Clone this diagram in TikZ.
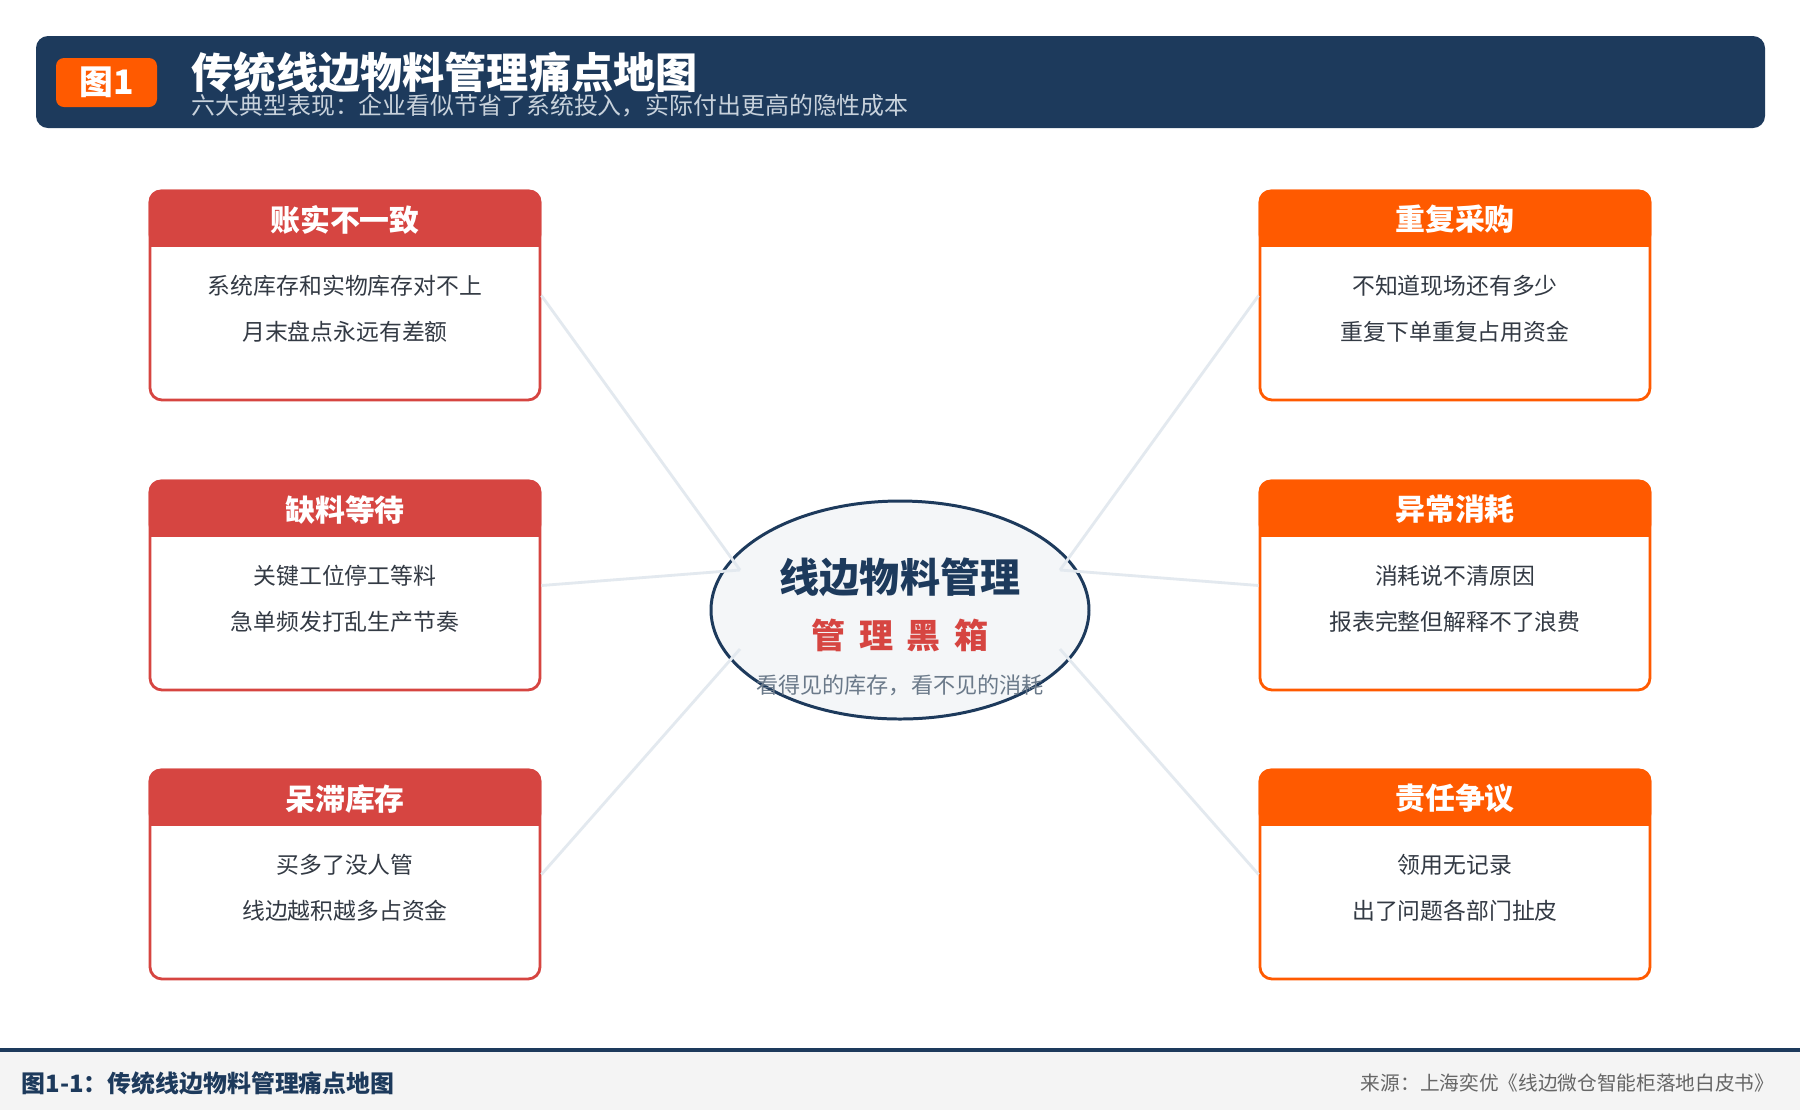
\documentclass[tikz,border=0pt]{standalone}
\usepackage{fontspec}
\setmainfont{Noto Sans CJK SC}
\usetikzlibrary{shapes.geometric, positioning, calc}
\definecolor{navy1}{HTML}{1D3A5C}
\definecolor{alertred}{HTML}{D64541}
\definecolor{orange1}{HTML}{FF5A00}
\definecolor{bodygray}{HTML}{333A44}
\definecolor{hubfill}{HTML}{F4F6F8}
\definecolor{mutedgray}{HTML}{6B7A8A}
\definecolor{subtitlegray}{HTML}{C8D2DC}
\definecolor{spokegray}{HTML}{E3E9EF}
\definecolor{footbg}{HTML}{F4F4F4}
\definecolor{footgray}{HTML}{666666}

\tikzset{
  cardframe/.style={draw, fill=white, line width=0.8pt, rounded corners=0.12cm,
    minimum width=3.90cm, minimum height=2.09cm, inner sep=0pt},
  cardtitle/.style={font=\fontsize{8.5}{10}\selectfont\bfseries, text=white, inner sep=0pt},
  cardtext/.style={font=\fontsize{6.5}{8}\selectfont, text=bodygray, inner sep=0pt},
  spoke/.style={draw=spokegray, line width=0.8pt},
}

\begin{document}
\begin{tikzpicture}
  \useasboundingbox (0, 0) rectangle (18, -11.10);
  \fill[white] (0, 0) rectangle (18, -11.10);

  % Title bar
  \fill[navy1, rounded corners=0.12cm] (0.36, -0.36) rectangle (17.65, -1.28);
  \node[fill=orange1, rounded corners=0.08cm, minimum width=1.01cm, minimum height=0.49cm, inner sep=0pt,
    font=\fontsize{9.6}{11}\selectfont\bfseries, text=white] (tag) at (1.065, -0.825) {图1};
  \node[anchor=west, inner sep=0pt, font=\fontsize{12}{14}\selectfont\bfseries, text=white] (title) at (1.91, -0.72) {传统线边物料管理痛点地图};
  \node[anchor=west, inner sep=0pt, font=\fontsize{6.8}{8}\selectfont, text=subtitlegray] (subtitle) at (1.91, -1.06) {六大典型表现：企业看似节省了系统投入，实际付出更高的隐性成本};

  % Left cards
  \node[cardframe, draw=alertred] (zhang) at (3.45, -2.955) {};
  \fill[alertred, rounded corners=0.12cm] (zhang.north west) rectangle ([yshift=-0.57cm]zhang.north east);
  \fill[alertred] ([yshift=-0.30cm]zhang.north west) rectangle ([yshift=-0.57cm]zhang.north east);
  \node[cardtitle] (zhangT) at ([yshift=-0.30cm]zhang.north) {账实不一致};
  \node[cardtext] (zhangA) at ([yshift=-0.96cm]zhang.north) {系统库存和实物库存对不上};
  \node[cardtext] (zhangB) at ([yshift=-1.42cm]zhang.north) {月末盘点永远有差额};

  \node[cardframe, draw=alertred] (que) at (3.45, -5.855) {};
  \fill[alertred, rounded corners=0.12cm] (que.north west) rectangle ([yshift=-0.57cm]que.north east);
  \fill[alertred] ([yshift=-0.30cm]que.north west) rectangle ([yshift=-0.57cm]que.north east);
  \node[cardtitle] (queT) at ([yshift=-0.30cm]que.north) {缺料等待};
  \node[cardtext] (queA) at ([yshift=-0.96cm]que.north) {关键工位停工等料};
  \node[cardtext] (queB) at ([yshift=-1.42cm]que.north) {急单频发打乱生产节奏};

  \node[cardframe, draw=alertred] (dai) at (3.45, -8.745) {};
  \fill[alertred, rounded corners=0.12cm] (dai.north west) rectangle ([yshift=-0.57cm]dai.north east);
  \fill[alertred] ([yshift=-0.30cm]dai.north west) rectangle ([yshift=-0.57cm]dai.north east);
  \node[cardtitle] (daiT) at ([yshift=-0.30cm]dai.north) {呆滞库存};
  \node[cardtext] (daiA) at ([yshift=-0.96cm]dai.north) {买多了没人管};
  \node[cardtext] (daiB) at ([yshift=-1.42cm]dai.north) {线边越积越多占资金};

  % Right cards
  \node[cardframe, draw=orange1] (chong) at (14.55, -2.955) {};
  \fill[orange1, rounded corners=0.12cm] (chong.north west) rectangle ([yshift=-0.57cm]chong.north east);
  \fill[orange1] ([yshift=-0.30cm]chong.north west) rectangle ([yshift=-0.57cm]chong.north east);
  \node[cardtitle] (chongT) at ([yshift=-0.30cm]chong.north) {重复采购};
  \node[cardtext] (chongA) at ([yshift=-0.96cm]chong.north) {不知道现场还有多少};
  \node[cardtext] (chongB) at ([yshift=-1.42cm]chong.north) {重复下单重复占用资金};

  \node[cardframe, draw=orange1] (yi) at (14.55, -5.855) {};
  \fill[orange1, rounded corners=0.12cm] (yi.north west) rectangle ([yshift=-0.57cm]yi.north east);
  \fill[orange1] ([yshift=-0.30cm]yi.north west) rectangle ([yshift=-0.57cm]yi.north east);
  \node[cardtitle] (yiT) at ([yshift=-0.30cm]yi.north) {异常消耗};
  \node[cardtext] (yiA) at ([yshift=-0.96cm]yi.north) {消耗说不清原因};
  \node[cardtext] (yiB) at ([yshift=-1.42cm]yi.north) {报表完整但解释不了浪费};

  \node[cardframe, draw=orange1] (ze) at (14.55, -8.745) {};
  \fill[orange1, rounded corners=0.12cm] (ze.north west) rectangle ([yshift=-0.57cm]ze.north east);
  \fill[orange1] ([yshift=-0.30cm]ze.north west) rectangle ([yshift=-0.57cm]ze.north east);
  \node[cardtitle] (zeT) at ([yshift=-0.30cm]ze.north) {责任争议};
  \node[cardtext] (zeA) at ([yshift=-0.96cm]ze.north) {领用无记录};
  \node[cardtext] (zeB) at ([yshift=-1.42cm]ze.north) {出了问题各部门扯皮};

  % Central black box
  \node[ellipse, draw=navy1, fill=hubfill, line width=0.85pt, minimum width=3.78cm, minimum height=2.18cm, inner sep=0pt] (hub) at (9.00, -6.10) {};
  \coordinate (hubNW) at ($(hub.center)+(-1.60, 0.40)$);
  \coordinate (hubSW) at ($(hub.center)+(-1.60, -0.39)$);
  \coordinate (hubNE) at ($(hub.center)+(1.60, 0.40)$);
  \coordinate (hubSE) at ($(hub.center)+(1.60, -0.39)$);

  \draw[spoke] (zhang.east) -- (hubNW);
  \draw[spoke] (que.east) -- (hubNW);
  \draw[spoke] (dai.east) -- (hubSW);
  \draw[spoke] (chong.west) -- (hubNE);
  \draw[spoke] (yi.west) -- (hubNE);
  \draw[spoke] (ze.west) -- (hubSE);

  \node[inner sep=0pt, font=\fontsize{11.4}{13}\selectfont\bfseries, text=navy1] (hubT) at (9.00, -5.77) {线边物料管理};
  \node[inner sep=0pt, font=\fontsize{9.7}{11}\selectfont\bfseries, text=alertred] (hubR) at (9.00, -6.35) {管\hspace{0.136cm}理\hspace{0.136cm}黑\hspace{0.136cm}箱};
  \node[inner sep=0pt, font=\fontsize{6.3}{8}\selectfont, text=mutedgray] (hubS) at (9.00, -6.85) {看得见的库存，看不见的消耗};

  % Footer
  \fill[footbg] (0, -10.50) rectangle (18, -11.10);
  \draw[navy1, line width=1pt] (0, -10.50) -- (18, -10.50);
  \node[anchor=west, inner sep=0pt, font=\fontsize{6.8}{8}\selectfont\bfseries, text=navy1] (caption) at (0.21, -10.83) {图1-1：传统线边物料管理痛点地图};
  \node[anchor=east, inner sep=0pt, font=\fontsize{5.6}{7}\selectfont, text=footgray] (source) at (17.75, -10.83) {来源：上海奕优《线边微仓智能柜落地白皮书》};
\end{tikzpicture}
\end{document}
